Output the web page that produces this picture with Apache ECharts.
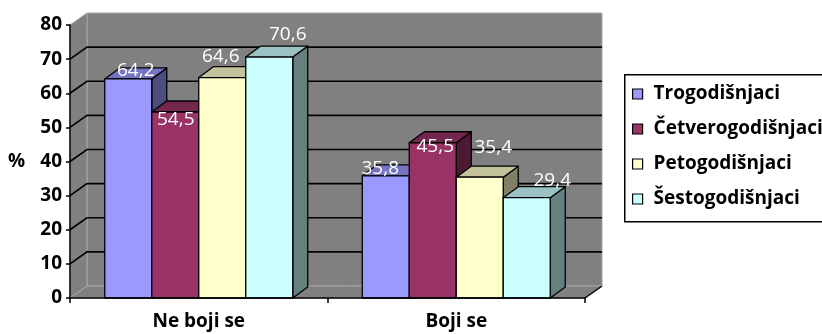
<!DOCTYPE html>
<html><head><meta charset="utf-8">
<script src="https://cdn.jsdelivr.net/npm/echarts@6/dist/echarts.min.js"></script>
<style>html,body{margin:0;padding:0;background:#fff}#c{width:822px;height:334px}</style>
</head><body><div id="c"></div>
<script>
// ---- data ----
const categories = ['Ne boji se', 'Boji se'];
const seriesNames = ['Trogodišnjaci', 'Četverogodišnjaci', 'Petogodišnjaci', 'Šestogodišnjaci'];
const trogodisnjaci = [64.2, 35.8];
const cetverogodisnjaci = [54.5, 45.5];
const petogodisnjaci = [64.6, 35.4];
const sestogodisnjaci = [70.6, 29.4];
const yTicks = [0, 10, 20, 30, 40, 50, 60, 70, 80];
const axisName = '%';

// ---- style ----
const allValues = [trogodisnjaci, cetverogodisnjaci, petogodisnjaci, sestogodisnjaci];
const colors = ['#9999FF', '#993366', '#FFFFCC', '#CCFFFF'];
const FONT = '"Open Sans", Lato, sans-serif';
const GROUP = 0.73;           // share of band occupied by the cluster
const BDX = 15, BDY = -11;    // bar depth
const WDX = 17, WDY = -12;    // wall depth
// label nudges (style only), [series][category] in px relative to top face centre
const labelNudge = [
  [[0, -3], [-13, -2]],
  [[-7, 13], [-5, 9]],
  [[-9, -15], [6, -24]],
  [[11, -17], [18, -12]]
];

function shade(hex, f) {
  const n = parseInt(hex.slice(1), 16);
  const r = Math.round(((n >> 16) & 255) * f), g = Math.round(((n >> 8) & 255) * f), b = Math.round((n & 255) * f);
  return 'rgb(' + r + ',' + g + ',' + b + ')';
}

function barGeom(api, c, v, s) {
  const base = api.coord([c, 0]);
  const top = api.coord([c, v]);
  const band = api.size([1, 0])[0];
  const w = band * GROUP / 4;
  const x0 = base[0] - band * GROUP / 2 + s * w;
  return { x0: x0, x1: x0 + w, w: w, yb: base[1], yt: top[1] };
}

function barRender(s) {
  return function (params, api) {
    const g = barGeom(api, api.value(0), api.value(1), s);
    const col = colors[s];
    const ls = { stroke: '#000', lineWidth: 1.3, lineJoin: 'round' };
    return {
      type: 'group', children: [
        { type: 'polygon', shape: { points: [[g.x1, g.yt], [g.x1 + BDX, g.yt + BDY], [g.x1 + BDX, g.yb + BDY], [g.x1, g.yb]] }, style: Object.assign({ fill: shade(col, 0.5) }, ls) },
        { type: 'polygon', shape: { points: [[g.x0, g.yt], [g.x0 + BDX, g.yt + BDY], [g.x1 + BDX, g.yt + BDY], [g.x1, g.yt]] }, style: Object.assign({ fill: shade(col, 0.76) }, ls) },
        { type: 'rect', shape: { x: g.x0, y: g.yt, width: g.w, height: g.yb - g.yt }, style: Object.assign({ fill: col }, ls) }
      ]
    };
  };
}

function wallRender(params, api) {
  const cs = params.coordSys;
  const L = cs.x, R = cs.x + cs.width, T = cs.y, B = cs.y + cs.height;
  const edge = { stroke: '#a6a6a6', lineWidth: 1 };
  const ch = [];
  ch.push({ type: 'polygon', shape: { points: [[L + WDX, T + WDY], [R + WDX, T + WDY], [R + WDX, B + WDY], [L + WDX, B + WDY]] }, style: Object.assign({ fill: '#808080' }, edge) });
  ch.push({ type: 'polygon', shape: { points: [[L, T], [L + WDX, T + WDY], [L + WDX, B + WDY], [L, B]] }, style: Object.assign({ fill: '#808080' }, edge) });
  ch.push({ type: 'polygon', shape: { points: [[L, B], [L + WDX, B + WDY], [R + WDX, B + WDY], [R, B]] }, style: Object.assign({ fill: '#808080' }, edge) });
  yTicks.forEach(function (v) {
    if (v === yTicks[0] || v === yTicks[yTicks.length - 1]) return;
    const y = api.coord([0, v])[1];
    ch.push({ type: 'polyline', shape: { points: [[L, y], [L + WDX, y + WDY], [R + WDX, y + WDY]] }, style: { stroke: '#000', lineWidth: 1.6, fill: null } });
  });
  ch.push({ type: 'line', shape: { x1: R, y1: B, x2: R + WDX, y2: B + WDY }, style: { stroke: '#000', lineWidth: 1.5 } });
  return { type: 'group', children: ch };
}

const labelData = [];
allValues.forEach(function (arr, s) { arr.forEach(function (v, c) { labelData.push([c, v, s]); }); });

function labelRender(params, api) {
  const c = api.value(0), v = api.value(1), s = api.value(2);
  const g = barGeom(api, c, v, s);
  const nd = labelNudge[s][c];
  return {
    type: 'text',
    x: (g.x0 + g.x1) / 2 + BDX / 2 + nd[0],
    y: g.yt + BDY / 2 + nd[1],
    style: { text: v.toFixed(1).replace('.', ','), fill: '#fff', fontSize: 19, fontFamily: FONT, align: 'center', verticalAlign: 'middle' }
  };
}

const series = [{
  type: 'custom', name: 'walls', renderItem: wallRender, data: [[0, 0]], z: 1, silent: true, clip: false
}];
allValues.forEach(function (arr, s) {
  series.push({
    type: 'custom', name: seriesNames[s], renderItem: barRender(s),
    itemStyle: { color: colors[s] },
    data: arr.map(function (v, c) { return [c, v]; }), z: 2 + s, clip: false
  });
});
series.push({ type: 'custom', name: 'labels', renderItem: labelRender, data: labelData, z: 10, silent: true, clip: false });

const chart = echarts.init(document.getElementById('c'), null, { renderer: 'canvas' });
chart.setOption({
  animation: false,
  backgroundColor: '#fff',
  grid: { left: 70, right: 237, top: 25, bottom: 36, containLabel: false },
  xAxis: {
    type: 'category', data: categories, z: 20,
    axisLine: { lineStyle: { color: '#000', width: 1.5 } },
    axisTick: { show: true, length: 5, lineStyle: { color: '#000', width: 1.5 } },
    axisLabel: { fontFamily: FONT, fontWeight: 'bold', fontSize: 19, color: '#000', margin: 14 },
    splitLine: { show: false }
  },
  yAxis: {
    type: 'value', min: yTicks[0], max: yTicks[yTicks.length - 1], interval: yTicks[1] - yTicks[0], z: 20,
    name: axisName, nameLocation: 'middle', nameRotate: 0, nameGap: 45,
    nameTextStyle: { fontFamily: FONT, fontWeight: 'bold', fontSize: 19, color: '#000' },
    axisLine: { show: true, lineStyle: { color: '#000', width: 1.5 } },
    axisTick: { show: true, length: 4, lineStyle: { color: '#000', width: 1.5 } },
    axisLabel: { fontFamily: FONT, fontWeight: 'bold', fontSize: 19, color: '#000', margin: 8 },
    splitLine: { show: false }
  },
  legend: {
    data: seriesNames, orient: 'vertical', left: 632, top: 83, z: 20, padding: 0,
    icon: 'rect', itemWidth: 10, itemHeight: 10, itemGap: 13,
    itemStyle: { borderColor: '#000', borderWidth: 1.2 },
    textStyle: { fontFamily: FONT, fontWeight: 'bold', fontSize: 19, color: '#000', lineHeight: 22, padding: [0, 0, 0, 6] }
  },
  graphic: [{ type: 'rect', left: 624, top: 74, z: 0, shape: { width: 240, height: 147 }, style: { fill: '#fff', stroke: '#000', lineWidth: 1.5 } }],
  series: series
});
</script></body></html>
